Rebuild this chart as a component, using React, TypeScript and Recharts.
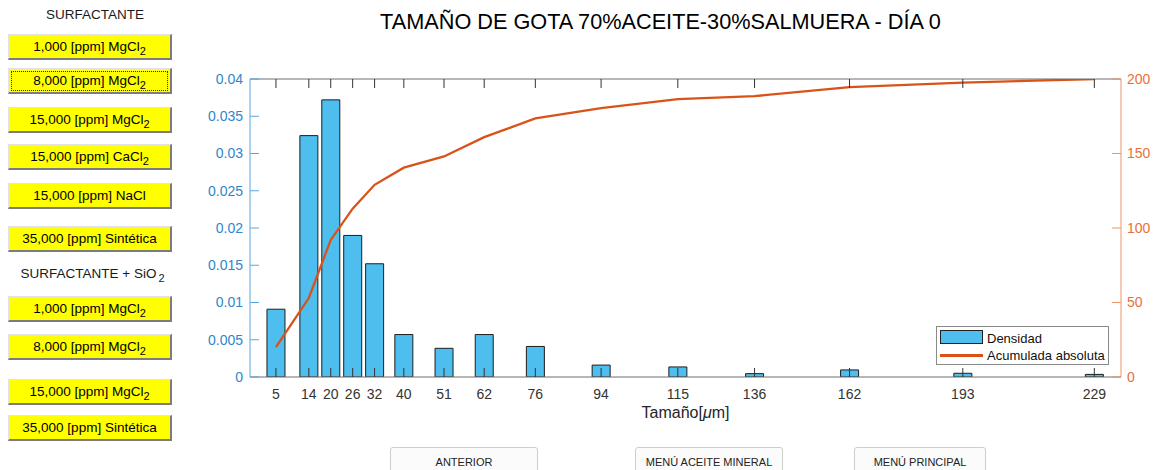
import React from 'react';
import { ComposedChart, Bar, Line, XAxis, YAxis, Legend } from 'recharts';

// ---- data ----
const sizes = [5, 14, 20, 26, 32, 40, 51, 62, 76, 94, 115, 136, 162, 193, 229];
const density = [0.0091, 0.0324, 0.0372, 0.019, 0.0152, 0.0057, 0.00385, 0.0057, 0.0041, 0.0016, 0.00135, 0.00045, 0.00095, 0.0005, 0.00035];
const cumulative = [20, 53, 92, 113, 129, 140.5, 148, 161, 173.5, 180.5, 186.5, 188.5, 194.5, 197.5, 200];
const leftTicks = [0, 0.005, 0.01, 0.015, 0.02, 0.025, 0.03, 0.035, 0.04];
const rightTicks = [0, 50, 100, 150, 200];

const data = sizes.map((s, i) => ({ size: s, d: density[i], c: cumulative[i] }));

const FONT = '"Liberation Sans", Arial, sans-serif';
const BLUE_TXT = '#2f86cc';
const BLUE_AX = '#5aa6dd';
const ORANGE_TXT = '#e8703a';
const ORANGE_AX = '#ef9466';

const surfButtons = [
  { top: 34, text: '1,000 [ppm] MgCl', sub: '2', focus: false },
  { top: 68, text: '8,000 [ppm] MgCl', sub: '2', focus: true },
  { top: 107, text: '15,000 [ppm] MgCl', sub: '2', focus: false },
  { top: 144, text: '15,000 [ppm] CaCl', sub: '2', focus: false },
  { top: 183, text: '15,000 [ppm] NaCl', sub: '', focus: false },
  { top: 226, text: '35,000 [ppm] Sintética', sub: '', focus: false },
  { top: 296, text: '1,000 [ppm] MgCl', sub: '2', focus: false },
  { top: 334, text: '8,000 [ppm] MgCl', sub: '2', focus: false },
  { top: 379, text: '15,000 [ppm] MgCl', sub: '2', focus: false },
  { top: 415, text: '35,000 [ppm] Sintética', sub: '', focus: false },
];

const navButtons = [
  { left: 390, width: 148, text: 'ANTERIOR' },
  { left: 635, width: 148, text: 'MENÚ ACEITE MINERAL' },
  { left: 854, width: 132, text: 'MENÚ PRINCIPAL' },
];

const YellowButton = ({ b }: any) => (
  <div
    style={{
      position: 'absolute', left: 8, top: b.top, width: 164, height: 26, boxSizing: 'border-box',
      background: '#ffff00', borderTop: '1px solid #e3e3e3', borderLeft: '1px solid #e3e3e3',
      borderRight: '2px solid #7c7c7c', borderBottom: '2px solid #7c7c7c',
      fontFamily: FONT, fontSize: 13.5, color: '#000', textAlign: 'center', lineHeight: '23px', whiteSpace: 'nowrap',
    }}
  >
    {b.focus && (
      <div style={{ position: 'absolute', left: 2, top: 2, right: 2, bottom: 1, border: '1px dotted #333' }} />
    )}
    {b.text}
    {b.sub && <span style={{ fontSize: 11, position: 'relative', top: 4 }}>{b.sub}</span>}
  </div>
);

const renderLegend = () => (
  <div
    style={{
      width: 173, height: 39, boxSizing: 'border-box', border: '1px solid #8a8a8a', background: '#fff',
      fontFamily: FONT, fontSize: 13, color: '#111', position: 'relative',
    }}
  >
    <div style={{ position: 'absolute', left: 3, top: 3, width: 43, height: 14, background: '#4DBEEE', border: '1px solid #222', boxSizing: 'border-box' }} />
    <span style={{ position: 'absolute', left: 50, top: 4, lineHeight: '15px', whiteSpace: 'nowrap' }}>Densidad</span>
    <div style={{ position: 'absolute', left: 3, top: 27, width: 43, height: 2.5, background: '#D95319' }} />
    <span style={{ position: 'absolute', left: 50, top: 21, lineHeight: '15px', whiteSpace: 'nowrap' }}>Acumulada absoluta</span>
  </div>
);

const XLabel = (props: any) => {
  const vb = props.viewBox || {};
  const cx = (vb.x || 0) + (vb.width || 0) / 2;
  return (
    <text x={cx} y={418} textAnchor="middle" fontFamily={FONT} fontSize={16} fill="#262626">
      Tamaño[<tspan fontStyle="italic">μ</tspan>m]
    </text>
  );
};

export default function App() {
  return (
    <div style={{ position: 'absolute', left: 0, top: 0, width: 1157, height: 470, overflow: 'hidden', background: '#fff' }}>
      <div style={{ position: 'absolute', left: 0, top: 0 }}>
        <ComposedChart width={1157} height={470} data={data} margin={{ top: 78, right: 0, left: 0, bottom: 63 }}>
          <XAxis
            xAxisId="x" dataKey="size" type="number" domain={[-2.1, 236.3]} ticks={sizes} allowDataOverflow
            interval={0} tickSize={-9} tickMargin={21} height={30}
            axisLine={{ stroke: '#6e6e6e' }} tickLine={{ stroke: '#333' }}
            tick={{ fill: '#333', fontSize: 14, fontFamily: FONT }}
            label={<XLabel />}
          />
          <XAxis
            xAxisId="top" orientation="top" dataKey="size" type="number" domain={[-2.1, 236.3]} ticks={sizes} allowDataOverflow
            interval={0} tickSize={-9} height={1} tickFormatter={() => ''}
            axisLine={{ stroke: '#6e6e6e' }} tickLine={{ stroke: '#333' }}
          />
          <YAxis
            yAxisId="left" orientation="left" width={250} domain={[0, 0.04]} ticks={leftTicks} interval={0}
            tickSize={-9} tickMargin={16} axisLine={{ stroke: BLUE_AX }} tickLine={{ stroke: BLUE_AX }}
            tick={{ fill: BLUE_TXT, fontSize: 14, fontFamily: FONT }} allowDataOverflow
          />
          <YAxis
            yAxisId="right" orientation="right" width={36} domain={[0, 200]} ticks={rightTicks} interval={0}
            tickSize={-9} tickMargin={15} axisLine={{ stroke: ORANGE_AX }} tickLine={{ stroke: ORANGE_AX }}
            tick={{ fill: ORANGE_TXT, fontSize: 14, fontFamily: FONT, textAnchor: 'start' }} allowDataOverflow
          />
          <Bar
            xAxisId="x" yAxisId="left" dataKey="d" name="Densidad" barSize={18}
            fill="#4DBEEE" stroke="#1e1e1e" strokeWidth={1} isAnimationActive={false}
          />
          <Line
            xAxisId="x" yAxisId="right" dataKey="c" name="Acumulada absoluta" type="linear"
            stroke="#D95319" strokeWidth={2.3} dot={false} activeDot={false} isAnimationActive={false}
          />
          <Legend
            layout="vertical" align="center" verticalAlign="middle" content={renderLegend}
            wrapperStyle={{ left: 936, top: 326, width: 173, height: 39 }}
          />
        </ComposedChart>
      </div>

      <div style={{ position: 'absolute', left: 358, top: 10, width: 605, textAlign: 'center', fontFamily: FONT, fontSize: 21.7, lineHeight: '24px', color: '#000', whiteSpace: 'nowrap' }}>
        TAMAÑO DE GOTA 70%ACEITE-30%SALMUERA - DÍA 0
      </div>

      <div style={{ position: 'absolute', left: 0, top: 7, width: 190, textAlign: 'center', fontFamily: FONT, fontSize: 13.5, lineHeight: '16px', color: '#1a1a1a' }}>
        SURFACTANTE
      </div>
      <div style={{ position: 'absolute', left: 0, top: 266, width: 185, textAlign: 'center', fontFamily: FONT, fontSize: 13.5, lineHeight: '16px', color: '#1a1a1a', whiteSpace: 'nowrap' }}>
        SURFACTANTE + SiO<span style={{ fontSize: 11, position: 'relative', top: 4, marginLeft: 2 }}>2</span>
      </div>

      {surfButtons.map((b, i) => (
        <YellowButton key={i} b={b} />
      ))}

      {navButtons.map((b, i) => (
        <div
          key={i}
          style={{
            position: 'absolute', left: b.left, top: 447, width: b.width, height: 32, boxSizing: 'border-box',
            background: '#fbfbfb', border: '1px solid #cdcdcd', borderRadius: 3,
            fontFamily: FONT, fontSize: 11, color: '#222', textAlign: 'center', paddingTop: 7, lineHeight: '14px',
          }}
        >
          {b.text}
        </div>
      ))}
    </div>
  );
}
